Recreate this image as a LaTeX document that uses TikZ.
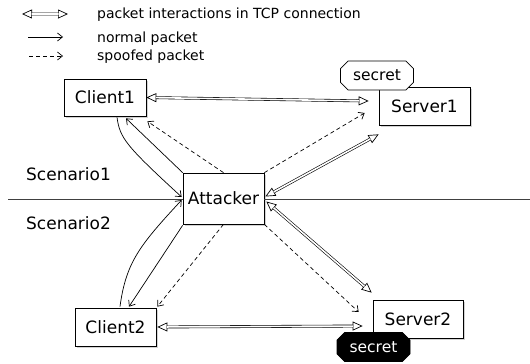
\documentclass[tikz,border=0pt]{standalone}
\usepackage{fontspec}
\setmainfont{DejaVu Sans}
\usetikzlibrary{arrows.meta,shadows,shapes.misc,calc}
\newcommand{\tcplink}[2]{%
  \draw[tcptips] #1 -- #2;
  \draw[tcpshaft] #1 -- #2;}
\begin{document}
\begin{tikzpicture}[x=1pt,y=-1pt,
  box/.style={draw, line width=0.7pt, fill=white, inner sep=0pt,
    font=\fontsize{17}{20}\selectfont,
    drop shadow={shadow xshift=1.6pt, shadow yshift=-2pt, opacity=0.35}},
  secretbox/.style={chamfered rectangle, chamfered rectangle xsep=4pt,
    chamfered rectangle angle=45, line width=0.7pt, inner sep=0pt,
    minimum width=73pt, minimum height=29pt,
    font=\fontsize{15.5}{18}\selectfont},
  legendtxt/.style={anchor=base west, inner sep=0pt, font=\fontsize{14}{16}\selectfont},
  scentxt/.style={anchor=base west, inner sep=0pt, font=\fontsize{17}{20}\selectfont},
  tcptips/.style={line width=0.7pt,
    {Triangle[open,length=10pt,width=9pt]}-{Triangle[open,length=10pt,width=9pt]}},
  tcpshaft/.style={double, double distance=1.6pt, line width=0.6pt,
    shorten <=9.5pt, shorten >=9.5pt},
  normal/.style={line width=0.7pt, -{Straight Barb[length=5pt,width=8pt]}},
  spoof/.style={line width=0.7pt, dash pattern=on 4pt off 3pt,
    -{Straight Barb[length=5pt,width=8pt]}},
  divider/.style={line width=0.9pt, draw=black!75}
]
\path[use as bounding box] (0,0) rectangle (530,364);

% legend
\node[legendtxt] (lt1) at (97,19) {packet interactions in TCP connection};
\node[legendtxt] (lt2) at (97,42) {normal packet};
\node[legendtxt] (lt3) at (97,60) {spoofed packet};
\coordinate (la1) at (22,14); \coordinate (lb1) at (68,14.01);
\coordinate (la2) at (28,37); \coordinate (lb2) at (63,37);
\coordinate (la3) at (29,56); \coordinate (lb3) at (63,56);
\tcplink{(la1)}{(lb1)}
\draw[normal] (la2) -- (lb2);
\draw[spoof] (la3) -- (lb3);

% scenario labels
\node[scentxt] (sc1) at (26,180) {Scenario1};
\node[scentxt] (sc2) at (26,229) {Scenario2};

% boxes
\node[box, minimum width=82pt, minimum height=37pt] (client1) at (105,97.5) {Client1};
\node[box, minimum width=81pt, minimum height=51pt] (attacker) at (223.5,198.5) {Attacker};
\node[box, minimum width=91pt, minimum height=38pt] (server1) at (424.5,106) {Server1};
\node[box, minimum width=81pt, minimum height=38pt] (client2) at (115.5,327) {Client2};
\node[box, minimum width=90pt, minimum height=38pt] (server2) at (418,319) {Server2};
\node[secretbox, draw, fill=white] (secret1) at (377,75.5) {secret};
\node[secretbox, draw=black, fill=black, text=white] (secret2) at (373.5,347) {secret};

% divider line
\coordinate (hl) at (8,199);
\coordinate (hr) at (530,199);
\draw[divider] (hl) -- (attacker.west |- hl);
\draw[divider] (attacker.east |- hr) -- (hr);

% TCP interactions
\tcplink{(client1.east)}{($(server1.west)+(-10,-5)$)}
\tcplink{($(attacker.east)+(1,-2)$)}{($(server1.south west)+(0,9)$)}
\tcplink{($(attacker.east)+(2,3)$)}{($(server2.north west)+(-1,-7)$)}
\tcplink{($(client2.east)+(1,0)$)}{($(server2.west)+(-10,7)$)}

% normal packets
\draw[normal] (attacker.north west) -- ($(client1.south)+(21,2)$);
\draw[normal] ($(client1.south)+(12,1)$) .. controls (120,138) and (125,145) .. ($(attacker.west)+(-1,-1.5)$);
\draw[normal] ($(attacker.south west)+(0,1)$) -- ($(client2.north)+(13.5,-1)$);
\draw[normal] ($(client2.north)+(4.5,-1)$) .. controls (126,262) and (140,245) .. ($(attacker.west)+(-1,1.5)$);

% spoofed packets
\draw[spoof] (attacker.north) -- ($(client1.south east)+(1,5)$);
\draw[spoof] (attacker.north east) -- ($(server1.west)+(-14,7)$);
\draw[spoof] (attacker.south) -- ($(client2.north east)+(1,-1)$);
\draw[spoof] (attacker.south east) -- ($(server2.west)+(-14,-7)$);
\end{tikzpicture}
\end{document}
